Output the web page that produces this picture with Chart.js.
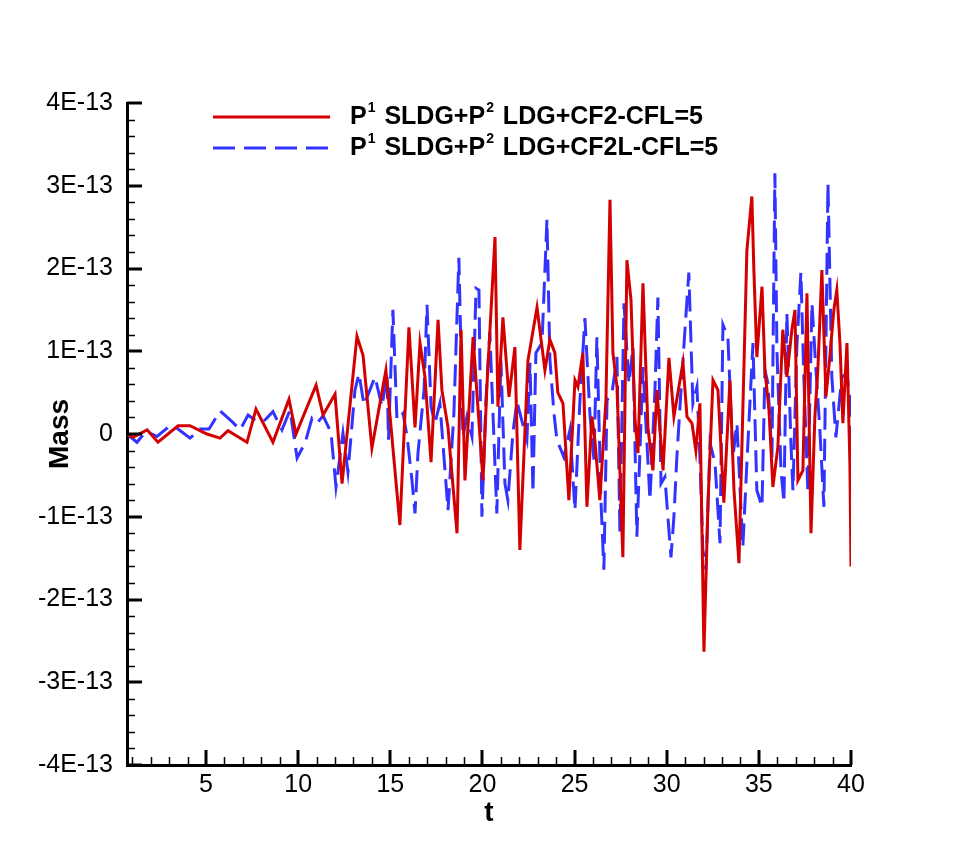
<!DOCTYPE html>
<html lang="en">
<head>
<meta charset="UTF-8">
<title>Mass vs t</title>
<style>
    body { margin: 0; background: #fff; }
    #wrap { width: 968px; height: 861px; }
</style>
</head>
<body>
<div id="wrap"><canvas id="massChart" width="968" height="861"></canvas></div>

<script src="https://cdn.jsdelivr.net/npm/chart.js"></script>
<script>
    // mass values are in units of 1E-13
    const tRed = [
        0.71, 1.04, 1.80, 2.39, 3.48, 4.13, 5.05, 5.76, 6.19, 7.22,
        7.71, 8.63, 9.50, 9.88, 10.97, 11.35, 12.00, 12.38, 13.19, 13.52,
        14.00, 14.76, 15.52, 16.01, 16.34, 16.61, 16.88, 17.21, 17.59, 17.80,
        18.13, 18.62, 18.84, 19.05, 19.49, 20.03, 20.24, 20.68, 20.84, 21.11,
        21.44, 21.76, 22.03, 22.47, 22.96, 23.39, 23.66, 23.93, 24.09, 24.37,
        24.69, 25.02, 25.18, 25.45, 25.67, 25.94, 26.10, 26.37, 26.70, 26.92,
        27.08, 27.30, 27.62, 27.84, 28.06, 28.28, 28.44, 28.71, 28.98, 29.25,
        29.47, 29.80, 30.12, 30.39, 30.88, 31.10, 31.37, 31.58, 31.80, 32.02,
        32.24, 32.51, 32.78, 33.10, 33.43, 33.65, 33.92, 34.35, 34.62, 34.73,
        34.89, 35.17, 35.33, 35.55, 35.76, 36.03, 36.30, 36.52, 36.79, 36.96,
        37.12, 37.39, 37.61, 37.83, 38.04, 38.20, 38.42, 38.64, 38.85, 39.07,
        39.23, 39.40, 39.56, 39.78, 39.94, 40.00
    ];
    const massRed = [
        0, -0.04, 0.05, -0.10, 0.10, 0.10, 0.00, -0.05, 0.04, -0.10,
        0.30, -0.10, 0.42, 0.00, 0.59, 0.23, 0.48, -0.60, 1.18, 0.95,
        -0.17, 0.77, -1.10, 1.29, 0.08, 1.10, 0.69, -0.34, 1.38, 0.53,
        0.08, -1.20, 1.26, -0.56, 1.17, -0.56, 0.57, 2.38, 0.33, 1.41,
        0.45, 1.05, -1.40, 0.89, 1.53, 0.77, 1.14, 0.98, 0.50, 0.37,
        -0.80, 0.65, 0.57, 0.98, -0.88, 0.21, -0.07, -0.80, 0.41, 2.83,
        0.98, 0.57, -1.49, 2.10, 1.62, 0.17, -0.23, 1.82, 0.08, -0.44,
        0.53, -0.44, 0.92, 0.21, 0.86, 0.21, 0.13, -0.20, 0.37, -2.63,
        -0.83, 0.65, 0.53, -0.83, 0.65, -0.68, -1.56, 2.22, 2.87, 1.98,
        0.93, 1.78, 0.77, 0.29, -0.64, -0.16, 1.26, 0.69, 1.26, 1.50,
        -0.56, -0.44, 1.70, -1.20, 0.21, 0.77, 1.98, 0.45, 0.93, 1.50,
        1.74, 1.10, 0.13, 1.10, -0.35, -1.60
    ];
    const tBlue = [
        0.71, 1.25, 1.74, 2.34, 3.04, 3.42, 4.13, 4.67, 5.16, 5.76,
        6.41, 6.85, 7.28, 7.76, 8.20, 8.63, 9.12, 9.56, 9.94, 10.37,
        10.75, 11.02, 11.35, 11.78, 12.05, 12.43, 12.70, 13.08, 13.30, 13.57,
        14.17, 14.55, 14.82, 14.90, 15.14, 15.36, 15.69, 15.91, 16.17, 16.34,
        16.50, 16.83, 16.99, 17.21, 17.42, 17.69, 18.13, 18.45, 18.72, 18.94,
        19.16, 19.43, 19.65, 19.81, 19.97, 20.19, 20.40, 20.78, 21.00, 21.22,
        21.38, 21.65, 21.87, 22.41, 22.58, 22.74, 22.90, 23.23, 23.50, 23.66,
        23.88, 24.04, 24.42, 24.75, 25.02, 25.29, 25.56, 25.83, 26.05, 26.21,
        26.43, 26.59, 26.76, 27.03, 27.30, 27.46, 27.68, 27.95, 28.17, 28.38,
        28.71, 29.09, 29.36, 29.52, 29.69, 29.90, 30.23, 30.39, 30.55, 30.82,
        30.99, 31.20, 31.42, 31.64, 31.80, 31.96, 32.13, 32.35, 32.62, 32.89,
        33.05, 33.32, 33.59, 33.81, 34.13, 34.35, 34.68, 34.89, 35.17, 35.33,
        35.49, 35.71, 35.87, 35.98, 36.20, 36.36, 36.52, 36.74, 36.85, 37.06,
        37.28, 37.44, 37.66, 37.88, 38.09, 38.31, 38.53, 38.75, 38.96, 39.18,
        39.50, 39.78, 39.94, 40.00
    ];
    const massBlue = [
        0, -0.10, 0.03, -0.03, 0.10, 0.07, -0.05, 0.06, 0.06, 0.28,
        0.15, 0.05, 0.23, 0.15, 0.17, 0.27, 0.05, 0.29, -0.29, -0.11,
        0.19, 0.13, 0.22, 0.02, -0.64, 0.01, -0.46, 0.53, 0.73, 0.35,
        0.69, 0.33, 0.73, -0.07, 1.50, 0.17, 0.25, -0.03, -0.55, -0.96,
        -0.23, 0.53, 1.56, 0.33, 0.13, 0.37, -0.92, 0.25, 2.13, -0.03,
        0.21, -0.03, 1.76, 1.74, -1.00, 0.41, 1.23, -0.96, 0.89, -0.60,
        -0.80, 0.01, 0.39, -0.07, 0.86, -0.71, 0.98, 1.10, 2.59, 0.90,
        0.25, -0.07, -0.28, 0.05, -0.92, 0.41, 1.40, 0.25, -0.31, 1.17,
        -0.80, -1.64, 0.41, 0.50, 0.93, -1.20, 1.58, 0.61, 1.05, -1.24,
        0.81, -0.80, 0.53, 1.65, -0.60, -0.52, -1.49, -1.00, -0.28, 0.69,
        1.26, 1.95, 0.37, 0.57, -0.28, -1.40, -1.64, -0.11, -0.35, -1.32,
        1.32, 1.17, -0.28, 0.13, -1.37, -0.35, 1.10, -0.68, -0.88, 0.77,
        0.61, -0.28, 3.15, 1.01, -0.44, -0.83, 1.46, -0.11, -0.68, 1.05,
        1.95, 0.69, -0.71, 1.58, 0.81, 0.05, -0.88, 3.03, 0.69, -0.04,
        0.69, 0.73, 0.41, -1.04
    ];
    const xTicks = [5, 10, 15, 20, 25, 30, 35, 40];
    const yTicks = [-4, -3, -2, -1, 0, 1, 2, 3, 4];
    const seriesLabels = ['P^1 SLDG+P^2 LDG+CF2-CFL=5', 'P^1 SLDG+P^2 LDG+CF2L-CFL=5'];

    const FONT = 'Arial, "Liberation Sans", sans-serif';

    function toPoints(ts, vs) {
        return ts.map((t, i) => ({ x: t, y: vs[i] }));
    }

    // tecplot style ticks, pointing into the plot
    const innerTicks = {
        id: 'innerTicks',
        afterDraw(chart) {
            const { ctx, chartArea: a, scales: { x, y } } = chart;
            ctx.save();
            ctx.strokeStyle = '#000';
            // minor
            ctx.lineWidth = 1.5;
            ctx.beginPath();
            for (let k = -20; k <= 20; k++) {
                if (k % 5 === 0) continue;
                const py = Math.round(y.getPixelForValue(k / 5)) + 0.5;
                ctx.moveTo(a.left, py);
                ctx.lineTo(a.left + 8, py);
            }
            for (let v = 1; v <= 40; v++) {
                if (v % 5 === 0) continue;
                const px = Math.round(x.getPixelForValue(v)) + 0.5;
                ctx.moveTo(px, a.bottom);
                ctx.lineTo(px, a.bottom - 8);
            }
            ctx.stroke();
            // major
            ctx.lineWidth = 3;
            ctx.beginPath();
            yTicks.forEach(v => {
                const py = Math.round(y.getPixelForValue(v));
                ctx.moveTo(a.left, py);
                ctx.lineTo(a.left + 15, py);
            });
            xTicks.forEach(v => {
                const px = Math.round(x.getPixelForValue(v));
                ctx.moveTo(px, a.bottom);
                ctx.lineTo(px, a.bottom - 15);
            });
            ctx.stroke();
            ctx.restore();
        }
    };

    // legend with superscripts (^n in the label)
    const legendBox = {
        id: 'legendBox',
        afterDraw(chart) {
            const ctx = chart.ctx;
            chart.data.datasets.forEach((ds, i) => {
                const yy = 117 + i * 31;
                ctx.save();
                ctx.strokeStyle = ds.borderColor;
                ctx.lineWidth = 3;
                ctx.setLineDash(ds.borderDash || []);
                ctx.beginPath();
                ctx.moveTo(213, yy);
                ctx.lineTo(330, yy);
                ctx.stroke();
                ctx.setLineDash([]);

                ctx.fillStyle = '#000';
                ctx.textBaseline = 'middle';
                let xx = 350;
                ds.label.split(/(\^\d)/).forEach(part => {
                    if (!part) return;
                    if (part[0] === '^') {
                        ctx.font = 'bold 14px ' + FONT;
                        ctx.fillText(part.slice(1), xx + 1, yy - 9);
                        xx += ctx.measureText(part.slice(1)).width + 3;
                    } else {
                        ctx.font = 'bold 25px ' + FONT;
                        ctx.fillText(part, xx, yy);
                        xx += ctx.measureText(part).width;
                    }
                });
                ctx.restore();
            });
        }
    };

    const ctx = document.getElementById('massChart').getContext('2d');
    new Chart(ctx, {
        type: 'scatter',
        data: {
            datasets: [
                {
                    label: seriesLabels[0],
                    data: toPoints(tRed, massRed),
                    showLine: true,
                    borderColor: '#d40000',
                    borderWidth: 3,
                    pointRadius: 0,
                    tension: 0
                },
                {
                    label: seriesLabels[1],
                    data: toPoints(tBlue, massBlue),
                    showLine: true,
                    borderColor: '#3333ff',
                    borderWidth: 3,
                    borderDash: [22, 9],
                    pointRadius: 0,
                    tension: 0
                }
            ]
        },
        options: {
            responsive: false,
            animation: false,
            devicePixelRatio: 1,
            layout: { padding: { top: 103, right: 117, left: 0, bottom: 0 } },
            plugins: {
                legend: { display: false },
                tooltip: { enabled: false }
            },
            scales: {
                x: {
                    type: 'linear',
                    min: 0.71,
                    max: 40,
                    afterFit(s) { s.height = 96; },
                    afterBuildTicks(s) { s.ticks = xTicks.map(v => ({ value: v })); },
                    grid: { display: false, drawTicks: false },
                    border: { display: true, color: '#000', width: 3 },
                    ticks: {
                        color: '#000',
                        font: { family: FONT, size: 25 },
                        padding: 5,
                        maxRotation: 0,
                        autoSkip: false
                    },
                    title: {
                        display: true,
                        text: 't',
                        color: '#000',
                        font: { family: FONT, size: 28, weight: 'bold' },
                        padding: { top: 0, bottom: 31 }
                    }
                },
                y: {
                    type: 'linear',
                    min: -4,
                    max: 4,
                    afterFit(s) { s.width = 127; },
                    afterBuildTicks(s) { s.ticks = yTicks.map(v => ({ value: v })); },
                    grid: { display: false, drawTicks: false },
                    border: { display: true, color: '#000', width: 3 },
                    ticks: {
                        color: '#000',
                        font: { family: FONT, size: 25 },
                        padding: 14,
                        callback: v => v === 0 ? '0' : v + 'E-13'
                    },
                    title: {
                        display: true,
                        text: 'Mass',
                        color: '#000',
                        font: { family: FONT, size: 28, weight: 'bold' },
                        padding: { top: 43, bottom: 0 }
                    }
                }
            }
        },
        plugins: [innerTicks, legendBox]
    });
</script>
</body>
</html>
